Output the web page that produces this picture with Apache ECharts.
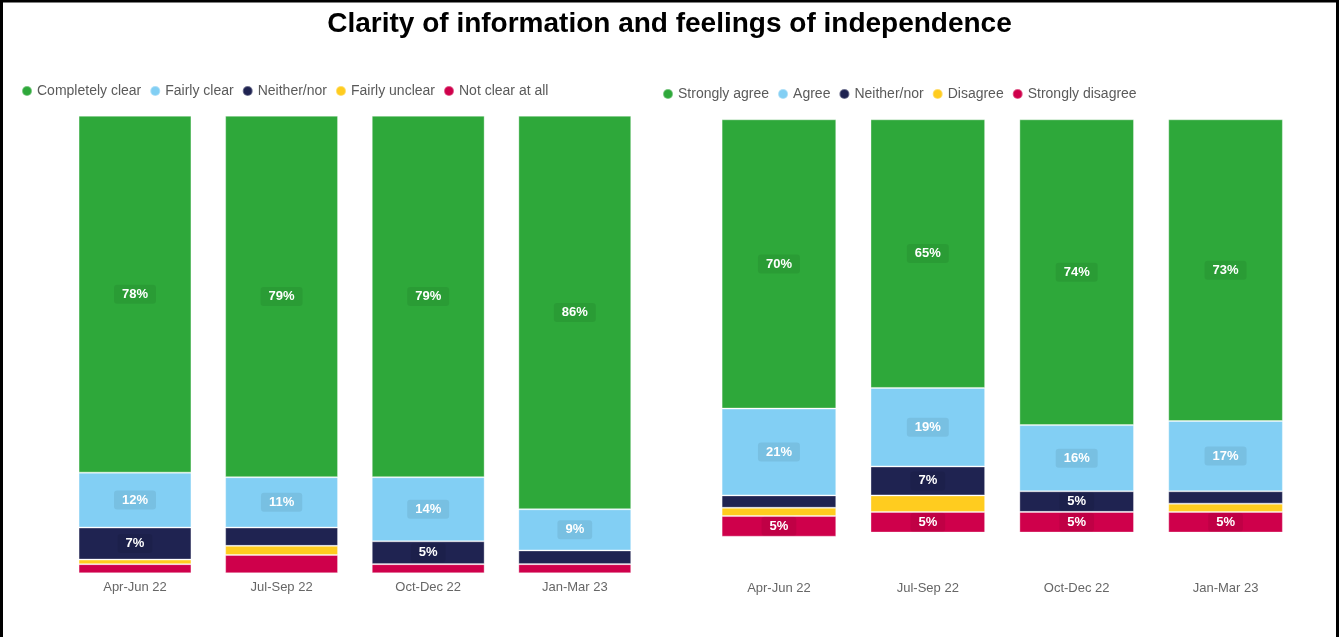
<!DOCTYPE html>
<html>
<head>
<meta charset="utf-8">
<script src="https://cdn.jsdelivr.net/npm/echarts@6/dist/echarts.min.js"></script>
<style>
  html, body { margin: 0; padding: 0; background: #ffffff; }
  #chart { width: 1339px; height: 637px; }
</style>
</head>
<body>
<div id="chart"></div>
<script>
// Quarters shown on both panels
const quarters = ['Apr-Jun 22', 'Jul-Sep 22', 'Oct-Dec 22', 'Jan-Mar 23'];

// Clarity of information (%)
const clarityNames = ['Completely clear', 'Fairly clear', 'Neither/nor', 'Fairly unclear', 'Not clear at all'];
const completelyClear = [78, 79, 79, 86];
const fairlyClear = [12, 11, 14, 9];
const clarityNeither = [7, 4, 5, 3];
const fairlyUnclear = [1, 2, 0, 0];
const notClearAtAll = [2, 4, 2, 2];

// Feelings of independence (%)
const independenceNames = ['Strongly agree', 'Agree', 'Neither/nor', 'Disagree', 'Strongly disagree'];
const stronglyAgree = [70, 65, 74, 73];
const agree = [21, 19, 16, 17];
const independenceNeither = [3, 7, 5, 3];
const disagree = [2, 4, 0, 2];
const stronglyDisagree = [5, 5, 5, 5];

const palette = ['#2ea83a', '#82cff4', '#1f2351', '#ffcc1f', '#cf004b'];
const labelMin = 5;

function makeSeries(names, values, axisIndex, stackId) {
  return names.map((name, i) => ({
    name: name,
    type: 'bar',
    stack: stackId,
    xAxisIndex: axisIndex,
    yAxisIndex: axisIndex,
    barCategoryGap: '23%',
    clip: false,
    itemStyle: { color: palette[i], borderColor: 'rgba(255,255,255,0.35)', borderWidth: 1 },
    label: {
      position: 'inside',
      color: '#ffffff',
      fontFamily: 'Liberation Sans, Arial, sans-serif',
      fontSize: 13,
      fontWeight: 'bold',
      backgroundColor: 'rgba(0,0,0,0.07)',
      borderRadius: 3,
      padding: [3, 8],
      formatter: '{c}%'
    },
    emphasis: { disabled: true },
    data: values[i].map(v => ({ value: v, label: { show: v >= labelMin } }))
  }));
}

const chart = echarts.init(document.getElementById('chart'), null, { renderer: 'canvas' });

const axisLabelStyle = {
  color: '#666666',
  fontFamily: 'Liberation Sans, Arial, sans-serif',
  fontSize: 13,
  margin: 8
};
const legendText = {
  color: '#5a5a5a',
  fontFamily: 'Liberation Sans, Arial, sans-serif',
  fontSize: 14
};

chart.setOption({
  animation: false,
  backgroundColor: '#ffffff',
  title: {
    text: 'Clarity of information and feelings of independence',
    left: 'center',
    top: 5,
    textStyle: {
      fontFamily: 'Liberation Sans Narrow, Arial Narrow, sans-serif',
      fontWeight: 'bold',
      fontSize: 28,
      color: '#000000'
    }
  },
  graphic: [{
    type: 'polyline',
    shape: { points: [[1.5, 637], [1.5, 1], [1337.5, 1], [1337.5, 637]] },
    style: { stroke: '#000000', lineWidth: 3, fill: null },
    silent: true
  }],
  legend: [
    {
      data: clarityNames,
      left: 16,
      top: 79,
      icon: 'circle',
      itemWidth: 10,
      itemHeight: 10,
      itemGap: 8,
      textStyle: legendText,
      selectedMode: false
    },
    {
      data: independenceNames,
      left: 657,
      top: 82,
      icon: 'circle',
      itemWidth: 10,
      itemHeight: 10,
      itemGap: 8,
      textStyle: legendText,
      selectedMode: false
    }
  ],
  grid: [
    { left: 61.7, top: 115.7, width: 586.4, height: 457.6 },
    { left: 704.5, top: 119.3, width: 595.5, height: 454.6 }
  ],
  xAxis: [0, 1].map(i => ({
    type: 'category',
    gridIndex: i,
    data: quarters,
    axisLine: { show: false },
    axisTick: { show: false },
    axisLabel: axisLabelStyle
  })),
  yAxis: [
    { type: 'value', gridIndex: 0, min: 0, max: 100, inverse: true, show: false, splitLine: { show: false } },
    { type: 'value', gridIndex: 1, min: 0, max: 110, inverse: true, show: false, splitLine: { show: false } }
  ],
  series: [
    ...makeSeries(clarityNames, [completelyClear, fairlyClear, clarityNeither, fairlyUnclear, notClearAtAll], 0, 'clarity'),
    ...makeSeries(independenceNames, [stronglyAgree, agree, independenceNeither, disagree, stronglyDisagree], 1, 'independence')
  ]
});
</script>
</body>
</html>
